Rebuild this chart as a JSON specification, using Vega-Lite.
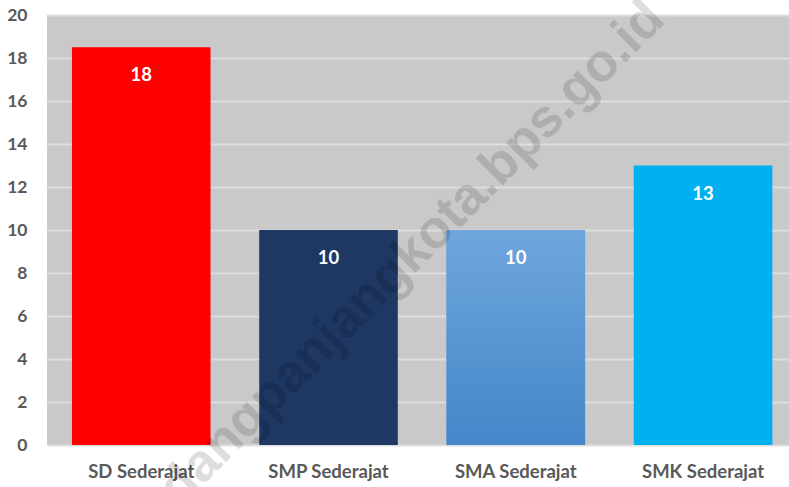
{
  "$schema": "https://vega.github.io/schema/vega-lite/v6.json",
  "width": 742,
  "height": 430,
  "autosize": {"type": "none"},
  "padding": {"left": 47, "top": 15, "right": 0, "bottom": 42},
  "background": "#FFFFFF",
  "config": {
    "view": {"fill": "#C9C9C9", "stroke": null},
    "font": "Lato"
  },
  "datasets": {
    "bars": [
      {"jenjang": "SD Sederajat", "nilai": 18.5, "label": "18"},
      {"jenjang": "SMP Sederajat", "nilai": 10, "label": "10"},
      {"jenjang": "SMA Sederajat", "nilai": 10, "label": "10"},
      {"jenjang": "SMK Sederajat", "nilai": 13, "label": "13"}
    ],
    "wm": [
      {"jenjang": "SMP Sederajat", "nilai": 3.97, "teks": "padangpanjangkota.bps.go.id"}
    ]
  },
  "data": {"name": "bars"},
  "encoding": {
    "x": {
      "field": "jenjang",
      "type": "nominal",
      "sort": null,
      "scale": {"paddingInner": 0.26, "paddingOuter": 0.111, "align": 0.6},
      "axis": {
        "title": null,
        "labelAngle": 0,
        "labelFont": "Lato",
        "labelFontSize": 18.5,
        "labelFontWeight": "bold",
        "labelColor": "#595959",
        "labelPadding": 17,
        "ticks": false,
        "domain": false
      }
    },
    "y": {
      "field": "nilai",
      "type": "quantitative",
      "scale": {"domain": [0, 20], "nice": false},
      "axis": {
        "title": null,
        "values": [0, 2, 4, 6, 8, 10, 12, 14, 16, 18, 20],
        "labelFont": "Lato",
        "labelFontSize": 17.5,
        "labelFontWeight": "bold",
        "labelColor": "#595959",
        "labelPadding": 20,
        "ticks": false,
        "domain": false,
        "grid": true,
        "gridColor": "#DEDEDE",
        "gridWidth": 2
      }
    }
  },
  "layer": [
    {
      "mark": {"type": "bar"},
      "encoding": {
        "color": {
          "field": "jenjang",
          "type": "nominal",
          "sort": null,
          "scale": {
            "domain": ["SD Sederajat", "SMP Sederajat", "SMA Sederajat", "SMK Sederajat"],
            "range": ["#FF0000", "#1F3763", "#5A9AD6", "#00B0F0"]
          },
          "legend": null
        }
      }
    },
    {
      "transform": [{"filter": "datum.jenjang === 'SMA Sederajat'"}],
      "mark": {
        "type": "bar",
        "color": {
          "gradient": "linear",
          "x1": 0, "y1": 0, "x2": 0, "y2": 1,
          "stops": [
            {"offset": 0, "color": "#6EA6DC"},
            {"offset": 1, "color": "#4487C9"}
          ]
        }
      }
    },
    {
      "mark": {
        "type": "text",
        "baseline": "middle",
        "align": "center",
        "dy": 28,
        "font": "Lato",
        "fontSize": 18.5,
        "fontWeight": "bold",
        "color": "#FFFFFF"
      },
      "encoding": {"text": {"field": "label"}}
    },
    {
      "data": {"name": "wm"},
      "mark": {
        "type": "text",
        "align": "center",
        "baseline": "alphabetic",
        "angle": -45,
        "dx": 103,
        "font": "Liberation Sans",
        "fontSize": 53,
        "fontWeight": "bold",
        "color": "#000000",
        "opacity": 0.13
      },
      "encoding": {"text": {"field": "teks"}}
    }
  ]
}
